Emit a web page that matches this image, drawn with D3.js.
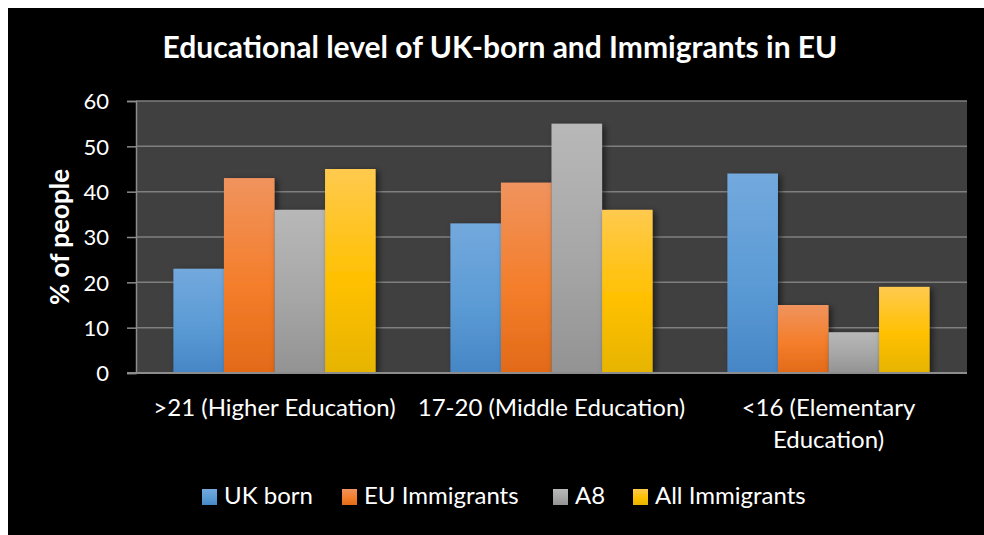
<!DOCTYPE html>
<html>
<head>
<meta charset="utf-8">
<script src="https://cdn.jsdelivr.net/npm/d3@7"></script>
<style>
  html, body { margin: 0; padding: 0; background: #ffffff; }
  svg { display: block; }
  text { font-family: Lato, "Open Sans", sans-serif; fill: #ffffff; }
</style>
</head>
<body>
<svg id="chart" width="984" height="535"></svg>
<script>
// Education level groups (x axis)
const categories = [">21 (Higher Education)", "17-20 (Middle Education)", "<16 (Elementary Education)"];
// Population groups (series)
const seriesNames = ["UK born", "EU Immigrants", "A8", "All Immigrants"];
// % of people per series, in category order
const ukBorn        = [23, 33, 44];
const euImmigrants  = [43, 42, 15];
const a8            = [36, 55, 9];
const allImmigrants = [45, 36, 19];
const yTicks = [0, 10, 20, 30, 40, 50, 60];

const seriesValues = [ukBorn, euImmigrants, a8, allImmigrants];
// gradient stops per series: light top, base middle, darker bottom
const seriesColors = [
  ["#73a9dd", "#5b9bd5", "#4686c6"],
  ["#f0935e", "#f47e2b", "#e26a18"],
  ["#b8b8b8", "#a6a6a6", "#939393"],
  ["#ffca4e", "#ffc000", "#e6b400"]
];

const svg = d3.select("#chart");
const W = 984, H = 535;

// black chart frame with a white margin at top/left
svg.append("rect").attr("x", 8).attr("y", 8).attr("width", W - 8).attr("height", H - 8).attr("fill", "#000");

const plot = { left: 136, right: 967, top: 101, bottom: 373 };

const defs = svg.append("defs");
seriesColors.forEach((c, i) => {
  const g = defs.append("linearGradient").attr("id", "grad" + i)
    .attr("x1", 0).attr("y1", 0).attr("x2", 0).attr("y2", 1);
  g.append("stop").attr("offset", "0%").attr("stop-color", c[0]);
  g.append("stop").attr("offset", "55%").attr("stop-color", c[1]);
  g.append("stop").attr("offset", "100%").attr("stop-color", c[2]);
});
const shadow = defs.append("filter").attr("id", "barShadow")
  .attr("x", "-20%").attr("y", "-10%").attr("width", "150%").attr("height", "130%");
shadow.append("feDropShadow").attr("dx", 3).attr("dy", 2).attr("stdDeviation", 3)
  .attr("flood-color", "#000").attr("flood-opacity", 0.55);

const x0 = d3.scaleBand().domain(categories).range([plot.left, plot.right]).paddingInner(0).paddingOuter(0);
const x1 = d3.scaleBand().domain(seriesNames).range([0, x0.bandwidth()]).paddingInner(0).paddingOuter(0.74);
const y = d3.scaleLinear().domain([0, 60]).range([plot.bottom, plot.top]);

// plot area background
svg.append("rect").attr("x", plot.left).attr("y", plot.top)
  .attr("width", plot.right - plot.left).attr("height", plot.bottom - plot.top)
  .attr("fill", "#404040");

// gridlines
svg.append("g").selectAll("line").data(yTicks.filter(t => t > 0)).join("line")
  .attr("x1", plot.left).attr("x2", plot.right)
  .attr("y1", d => y(d)).attr("y2", d => y(d))
  .attr("stroke", "#7f7f7f").attr("stroke-width", 1.5);

// y axis
const yAxis = svg.append("g").attr("transform", `translate(${plot.left},0)`)
  .call(d3.axisLeft(y).tickValues(yTicks).tickSize(9).tickPadding(18).tickFormat(d3.format("d")));
yAxis.select(".domain").attr("stroke", "#8c8c8c").attr("stroke-width", 1.5);
yAxis.selectAll(".tick line").attr("stroke", "#8c8c8c").attr("stroke-width", 1.5);
yAxis.selectAll(".tick text").attr("fill", "#fff").style("font-size", "22px")
  .style("font-family", "Lato, sans-serif").attr("dy", "0.36em");

// bars
const groups = svg.append("g").selectAll("g").data(categories).join("g")
  .attr("transform", d => `translate(${x0(d)},0)`);
groups.selectAll("rect")
  .data((c, ci) => seriesNames.map((s, si) => ({ s, si, v: seriesValues[si][ci] })))
  .join("rect")
  .attr("x", d => x1(d.s))
  .attr("width", x1.bandwidth())
  .attr("y", d => y(d.v))
  .attr("height", d => y(0) - y(d.v))
  .attr("fill", d => `url(#grad${d.si})`)
  .attr("filter", "url(#barShadow)");

// category axis baseline
svg.append("line").attr("x1", plot.left - 9).attr("x2", plot.right)
  .attr("y1", plot.bottom).attr("y2", plot.bottom)
  .attr("stroke", "#8c8c8c").attr("stroke-width", 2);

// category labels (wrapped like the original axis)
const catLines = [[">21 (Higher Education)"], ["17-20 (Middle Education)"], ["<16 (Elementary", "Education)"]];
categories.forEach((c, i) => {
  const t = svg.append("text").attr("text-anchor", "middle")
    .attr("x", x0(c) + x0.bandwidth() / 2).attr("y", 416)
    .style("font-size", "24px");
  catLines[i].forEach((ln, j) => {
    t.append("tspan").attr("x", x0(c) + x0.bandwidth() / 2).attr("dy", j === 0 ? 0 : 32).text(ln);
  });
});

// title
svg.append("text").attr("x", 500).attr("y", 58).attr("text-anchor", "middle")
  .style("font-size", "30px").style("font-weight", "bold")
  .text("Educational level of UK-born and Immigrants in EU");

// y axis title
svg.append("text").attr("transform", `translate(69,237) rotate(-90)`)
  .attr("text-anchor", "middle")
  .style("font-size", "26px").style("font-weight", "bold")
  .text("% of people");

// legend
const legendX = [202, 342, 553, 633];
const legend = svg.append("g").selectAll("g").data(seriesNames).join("g")
  .attr("transform", (d, i) => `translate(${legendX[i]},489)`);
legend.append("rect").attr("width", 15).attr("height", 16)
  .attr("fill", (d, i) => `url(#grad${i})`);
legend.append("text").attr("x", 22).attr("y", 15).style("font-size", "24px").text(d => d);
</script>
</body>
</html>
